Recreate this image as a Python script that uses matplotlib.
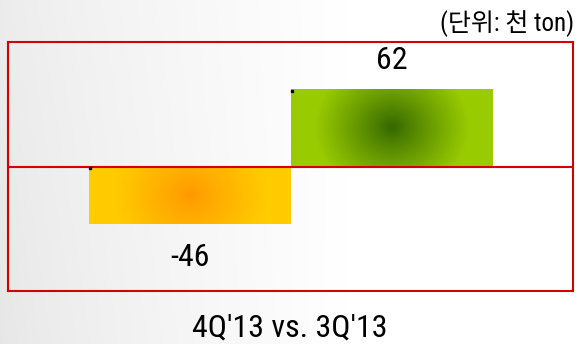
import numpy as np
import matplotlib.pyplot as plt
from matplotlib.colors import LinearSegmentedColormap

values = [-46, 62]
value_labels = ['-46', '62']
bar_colors = [('#ff9900', '#ffcc00'), ('#336600', '#99cc00')]
title = "4Q'13 vs. 3Q'13"
unit = '(단위: 천 ton)'

fonts = ['Roboto Condensed', 'Noto Sans CJK KR']
red = '#d40000'

fig = plt.figure(figsize=(5.76, 3.44), dpi=100)

# grey-to-white background
bg = fig.add_axes([0, 0, 1, 1], zorder=-1)
gx = np.linspace(0, 1, 300)
gy = np.linspace(0, 1, 200)
GX, GY = np.meshgrid(gx, gy)
shade = np.clip(GX / 0.6, 0, 1) ** 0.8
shade = 0.905 + 0.095 * shade + 0.02 * GY * (1 - shade)
bg.imshow(np.dstack([shade] * 3), extent=[0, 1, 0, 1], aspect='auto', origin='lower')
bg.set_axis_off()

ax = fig.add_axes([8 / 576, 53 / 344, 565 / 576, 249 / 344])
ax.patch.set_alpha(0)
ax.set_xlim(-0.9, 1.9)
ax.set_ylim(-100, 100)

x = np.arange(len(values))
bars = ax.bar(x, values, width=1.0, color='none', zorder=2)

# radial gradient fill for each bar (in pixel space)
fig.canvas.draw()
for bar, (c_in, c_out) in zip(bars, bar_colors):
    cmap = LinearSegmentedColormap.from_list('g', [c_in, c_out])
    x0, y0 = bar.get_x(), bar.get_y()
    w, h = bar.get_width(), bar.get_height()
    ext = bar.get_window_extent()
    u = np.linspace(-ext.width / 2, ext.width / 2, 200)
    v = np.linspace(-ext.height / 2, ext.height / 2, 100)
    U, V = np.meshgrid(u, v)
    r = np.clip(np.sqrt((U / 78) ** 2 + (V / 68) ** 2), 0, 1) ** 0.9
    im = ax.imshow(r, cmap=cmap, vmin=0, vmax=1, aspect='auto',
                   extent=[x0, x0 + w, min(y0, y0 + h), max(y0, y0 + h)], zorder=2)
    im.set_clip_path(bar)
    ax.plot(x0 + 0.008, max(y0, y0 + h) - 1.2, marker='s', ms=1.8, color='black', zorder=4)

ax.axhline(0, color=red, lw=1.5, zorder=3)

for xi, v, lab in zip(x, values, value_labels):
    y = v + 23 if v > 0 else v - 27
    ax.text(xi, y, lab, ha='center', va='center', fontsize=23, family=fonts)

ax.set_xticks([])
ax.set_yticks([])
for s in ax.spines.values():
    s.set_color(red)
    s.set_linewidth(1.5)

fig.text(0.503, 0.047, title, ha='center', va='center', fontsize=23, family=fonts)
fig.text(0.996, 0.932, unit, ha='right', va='center', fontsize=18, family=fonts)

fig.savefig('out.png', dpi=100)
